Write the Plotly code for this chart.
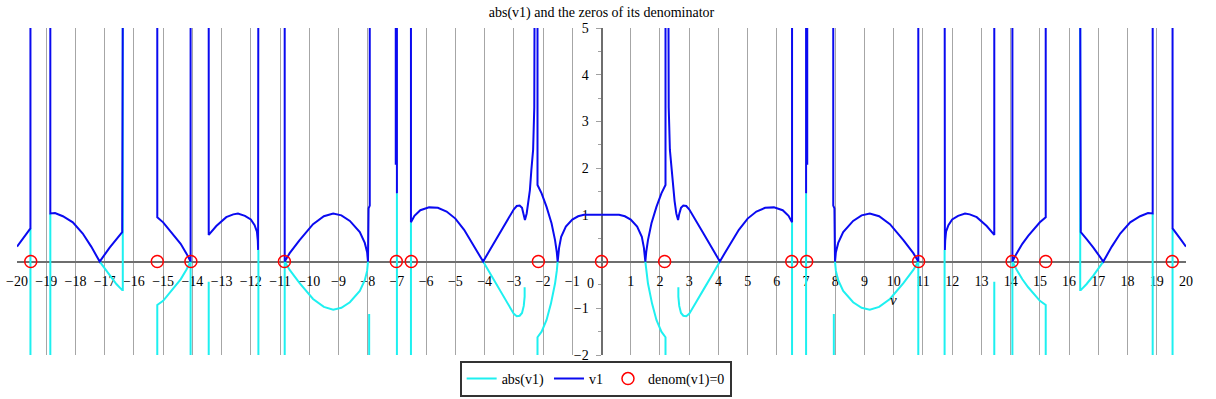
import plotly.graph_objects as go

N = None
# ---- blue curve ("v1" in legend), left half  (8 = off-chart top) ----
blue_left_x = [-20, -19.8, -19.54, -19.54, N,
               -18.86, -18.86, -18.7, -18.43, -18.09, -17.75, -17.46, -17.17, -16.83, -16.6, -16.4, -16.37, N,
               -15.2, -15.2, -15.0, -14.8, -14.6, -14.4, -14.2, -14.06, -14.06, N,
               -13.44, -13.44, -13.18, -12.84, -12.6, -12.44, -12.2, -12.0, -11.87, -11.79, -11.76, -11.75, -11.74, N,
               -10.84, -10.84, -10.67, -10.33, -9.87, -9.5, -9.18, -8.9, -8.61, -8.27, -8.1, -8.02, -7.99, -7.97, -7.93, -7.93, N,
               -7.04, -7.04, N,
               -7.0, -7.0, N,
               -6.52, -6.52, -6.4, -6.2, -5.9, -5.6, -5.3, -5.0, -4.7, -4.4, -4.2, -4.05, -3.8, -3.5, -3.2, -3.0, -2.9, -2.8,
               -2.72, -2.66, -2.62, -2.56, -2.5, -2.45, -2.4, -2.34, -2.30, -2.28, -2.28, N,
               -2.19, -2.19, -2.05, -1.88, -1.71, -1.59, -1.53, -1.5, -1.45, -1.38, -1.22, -1.0, -0.8, -0.6, -0.3, 0]
blue_left_y = [0.32, 0.49, 0.71, 8, N,
               8, 1.03, 1.04, 0.97, 0.84, 0.6, 0.32, 0, 0.3, 0.48, 0.63, 8, N,
               8, 0.95, 0.84, 0.69, 0.55, 0.38, 0.17, 0, 8, N,
               8, 0.57, 0.76, 0.95, 1.01, 1.03, 0.98, 0.9, 0.78, 0.64, 0.45, 0.25, 8, N,
               8, 0, 0.18, 0.46, 0.8, 0.97, 1.03, 0.99, 0.87, 0.63, 0.4, 0.2, 0, 1.14, 1.2, 8, N,
               8, 2.07, N,
               8, 1.46, N,
               8, 0.84, 0.98, 1.1, 1.16, 1.15, 1.07, 0.92, 0.68, 0.36, 0.16, 0, 0.27, 0.59, 0.92, 1.12, 1.19, 1.2,
               1.15, 1.02, 0.89, 1.03, 1.3, 1.53, 1.96, 2.39, 3.3, 5.2, 8, N,
               8, 1.64, 1.46, 1.17, 0.82, 0.46, 0.2, 0, 0.3, 0.53, 0.75, 0.9, 0.97, 1.0, 1.0, 1.0]

# ---- blue curve, right half ----
blue_right_x = [0, 0.3, 0.6, 0.8, 1.0, 1.22, 1.38, 1.45, 1.5, 1.53, 1.59, 1.71, 1.88, 2.05, 2.19, 2.19, N,
                2.28, 2.28, 2.30, 2.34, 2.4, 2.45, 2.5, 2.56, 2.62, 2.66, 2.72, 2.8, 2.9, 3.0, 3.2, 3.5, 3.8, 4.05,
                4.2, 4.4, 4.7, 5.0, 5.3, 5.6, 5.9, 6.2, 6.4, 6.52, 6.52, N,
                7.0, 7.0, N,
                7.04, 7.04, N,
                7.93, 7.93, 7.97, 7.99, 8.02, 8.1, 8.27, 8.61, 8.9, 9.18, 9.5, 9.87, 10.33, 10.67, 10.84, 10.84, N,
                11.74, 11.75, 11.76, 11.79, 11.87, 12.0, 12.2, 12.44, 12.6, 12.84, 13.18, 13.44, 13.44, N,
                14.06, 14.06, 14.2, 14.4, 14.6, 14.8, 15.0, 15.2, 15.2, N,
                16.37, 16.4, 16.6, 16.83, 17.17, 17.46, 17.75, 18.09, 18.43, 18.7, 18.86, 18.86, N,
                19.54, 19.54, 19.8, 20]
blue_right_y = [1.0, 1.0, 1.0, 0.97, 0.9, 0.75, 0.53, 0.3, 0, 0.2, 0.46, 0.82, 1.17, 1.46, 1.64, 8, N,
                8, 5.2, 3.3, 2.39, 1.96, 1.53, 1.3, 1.03, 0.89, 1.02, 1.15, 1.2, 1.19, 1.12, 0.92, 0.59, 0.27, 0,
                0.16, 0.36, 0.68, 0.92, 1.07, 1.15, 1.16, 1.1, 0.98, 0.84, 8, N,
                1.46, 8, N,
                2.07, 8, N,
                8, 1.2, 1.14, 0, 0.2, 0.4, 0.63, 0.87, 0.99, 1.03, 0.97, 0.8, 0.46, 0.18, 0, 8, N,
                8, 0.25, 0.45, 0.64, 0.78, 0.9, 0.98, 1.03, 1.01, 0.95, 0.76, 0.57, 8, N,
                8, 0, 0.17, 0.38, 0.55, 0.69, 0.84, 0.95, 8, N,
                8, 0.63, 0.48, 0.3, 0, 0.32, 0.6, 0.84, 0.97, 1.04, 1.03, 8, N,
                8, 0.71, 0.49, 0.32]

# ---- cyan curve ("abs(v1)" in legend), left half (-8 = off-chart bottom) ----
cyan_left_x = [-19.54, -19.54, N,
               -18.86, -18.86, N,
               -17.17, -16.83, -16.6, -16.4, -16.38, -16.38, N,
               -15.2, -15.2, -15.0, -14.8, -14.6, -14.4, -14.2, -14.06, -14.06, N,
               -13.44, -13.44, N,
               -11.74, -11.74, N,
               -10.84, -10.84, -10.67, -10.33, -9.87, -9.5, -9.18, -8.9, -8.61, -8.27, -8.1, -8.02, -7.99, N,
               -7.95, -7.95, N,
               -7.0, -7.0, N,
               -6.52, -6.52, N,
               -4.05, -3.8, -3.5, -3.2, -3.0, -2.9, -2.8, -2.72, -2.66, -2.63, -2.63, N,
               -2.19, -2.19, -2.05, -1.88, -1.73, -1.59, -1.53, -1.5]
cyan_left_y = [0.71, -8, N,
               1.03, -8, N,
               0, -0.3, -0.48, -0.61, -0.61, 8, N,
               -8, -0.93, -0.84, -0.69, -0.55, -0.38, -0.17, 0, -8, N,
               -0.43, -8, N,
               0.25, -8, N,
               -8, 0, -0.18, -0.46, -0.8, -0.97, -1.03, -0.99, -0.87, -0.63, -0.4, -0.2, 0, N,
               -1.12, -8, N,
               1.46, -8, N,
               0.84, -8, N,
               0, -0.27, -0.59, -0.92, -1.12, -1.17, -1.16, -1.1, -0.95, -0.75, -0.55, N,
               -8, -1.62, -1.5, -1.25, -0.9, -0.47, -0.2, 0]

# ---- cyan curve, right half ----
cyan_right_x = [1.5, 1.53, 1.59, 1.73, 1.88, 2.05, 2.19, 2.19, N,
                2.63, 2.63, 2.66, 2.72, 2.8, 2.9, 3.0, 3.2, 3.5, 3.8, 4.05, N,
                6.52, 6.52, N,
                7.0, 7.0, N,
                7.95, 7.95, N,
                7.99, 8.02, 8.1, 8.27, 8.61, 8.9, 9.18, 9.5, 9.87, 10.33, 10.67, 10.84, 10.84, N,
                11.74, 11.74, N,
                13.44, 13.44, N,
                14.06, 14.06, 14.2, 14.4, 14.6, 14.8, 15.0, 15.2, 15.2, N,
                16.38, 16.38, 16.4, 16.6, 16.83, 17.17, N,
                18.86, 18.86, N,
                19.54, 19.54]
cyan_right_y = [0, -0.2, -0.47, -0.9, -1.25, -1.5, -1.62, -8, N,
                -0.55, -0.75, -0.95, -1.1, -1.16, -1.17, -1.12, -0.92, -0.59, -0.27, 0, N,
                0.84, -8, N,
                1.46, -8, N,
                -1.12, -8, N,
                0, -0.2, -0.4, -0.63, -0.87, -0.99, -1.03, -0.97, -0.8, -0.46, -0.18, 0, -8, N,
                0.25, -8, N,
                -0.43, -8, N,
                -8, 0, -0.17, -0.38, -0.55, -0.69, -0.84, -0.93, -8, N,
                8, -0.61, -0.61, -0.48, -0.3, 0, N,
                1.03, -8, N,
                0.71, -8]

# ---- zeros of the denominator ----
denom_zero_x = [-19.53, -15.2, -14.05, -10.85, -7.02, -6.51, -2.16, 0,
                2.16, 6.51, 7.02, 10.85, 14.05, 15.2, 19.53]
denom_zero_y = [0] * len(denom_zero_x)

x_ticks = [v for v in range(-20, 21) if v != 0]
y_ticks = [-2, -1, 1, 2, 3, 4, 5]

FONT = "Liberation Serif"
CYAN = "#1ef0f0"
BLUE = "#0a0af0"

fig = go.Figure()
fig.add_trace(go.Scatter(x=cyan_left_x + [None] + cyan_right_x,
                         y=cyan_left_y + [None] + cyan_right_y,
                         mode="lines", name="abs(v1)",
                         line=dict(color=CYAN, width=2), connectgaps=False))
fig.add_trace(go.Scatter(x=blue_left_x + [None] + blue_right_x,
                         y=blue_left_y + [None] + blue_right_y,
                         mode="lines", name="v1",
                         line=dict(color=BLUE, width=2), connectgaps=False))
fig.add_trace(go.Scatter(x=denom_zero_x, y=denom_zero_y, mode="markers",
                         name="denom(v1)=0",
                         marker=dict(symbol="circle-open", size=12,
                                     line=dict(color="#ff0000", width=1.5),
                                     color="#ff0000")))

fig.update_layout(
    width=1216, height=399,
    margin=dict(l=17, r=30, t=28, b=44, autoexpand=False),
    paper_bgcolor="white", plot_bgcolor="white",
    font=dict(family=FONT, size=14, color="black"),
    title=dict(text="abs(v1) and the zeros of its denominator",
               x=0.5, xref="paper", xanchor="center",
               y=1 - 12 / 399, yref="container", yanchor="middle",
               font=dict(family=FONT, size=14, color="black")),
    showlegend=True,
    legend=dict(orientation="h", x=0.495, xanchor="center", xref="paper",
                y=1 - 379 / 399, yref="container", yanchor="middle",
                bordercolor="#333333", borderwidth=2, bgcolor="white",
                font=dict(family=FONT, size=14, color="black"),
                itemwidth=30),
    xaxis=dict(range=[-20, 20], domain=[0, 1], anchor="free", position=2 / 7,
               showgrid=True, gridcolor="#a6a6a6", gridwidth=1,
               tickvals=x_ticks, ticks="outside", ticklen=7,
               tickcolor="rgba(0,0,0,0)",
               showline=True, linecolor="#6e6e6e", linewidth=2,
               zeroline=False, layer="below traces",
               tickfont=dict(family=FONT, size=14, color="black")),
    yaxis=dict(range=[-2, 5], domain=[0, 1], anchor="free", position=0.5,
               showgrid=False, zeroline=False,
               tickvals=y_ticks, ticks="outside", ticklen=5,
               tickcolor="#a0a0a0", tickwidth=1,
               minor=dict(ticks="outside", ticklen=3, dtick=0.5, tick0=0,
                          tickcolor="#a0a0a0"),
               showline=True, linecolor="#6e6e6e", linewidth=2,
               layer="below traces", ticklabelstandoff=4,
               tickfont=dict(family=FONT, size=14, color="black")),
)

fig.add_annotation(x=-0.39, y=-0.46, text="0", showarrow=False,
                   font=dict(family=FONT, size=14, color="black"))
fig.add_annotation(x=10.0, y=-0.82, text="<i>v</i>", showarrow=False,
                   font=dict(family=FONT, size=15, color="black"))

fig.write_html("out.html", config={"displayModeBar": False},
               post_script="document.body.style.margin='0px';")
